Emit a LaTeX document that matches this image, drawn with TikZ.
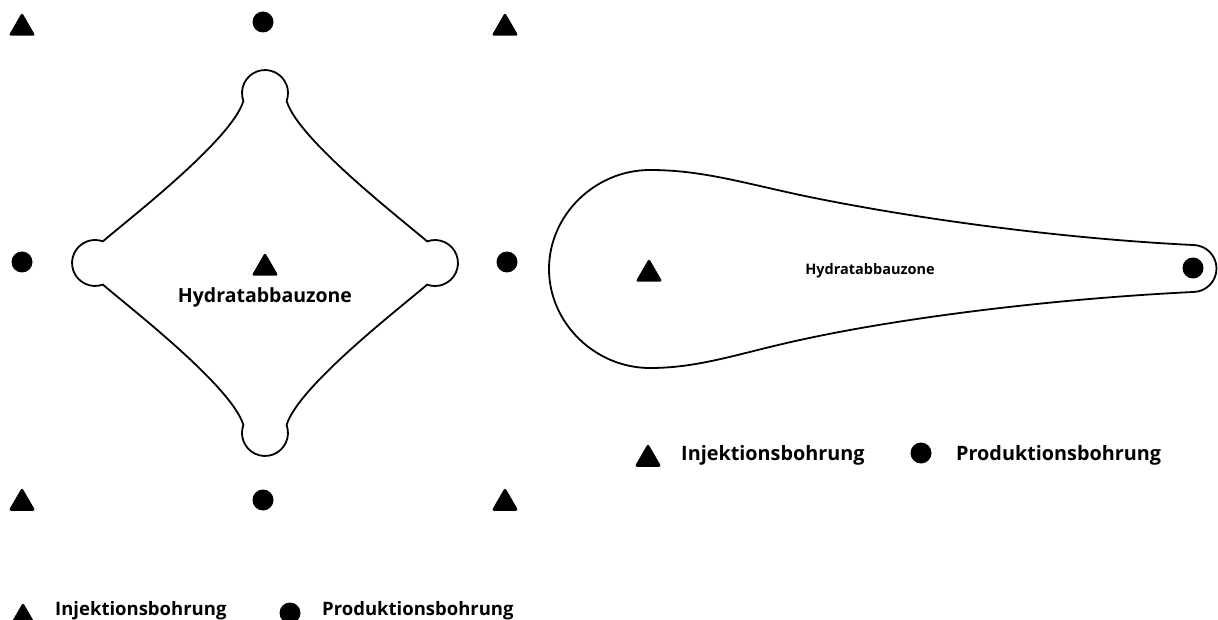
\documentclass[tikz,border=0pt]{standalone}
\usepackage{fontspec}
\setmainfont{Open Sans}
\usepackage{tikz}
\usetikzlibrary{shapes.geometric}

\begin{document}
\begin{tikzpicture}[
    x=1pt, y=-1pt, % one unit per pixel, y running down
    inj/.style={regular polygon, regular polygon sides=3, fill=black, rounded corners=2.5pt, minimum size=31pt, inner sep=0pt}, % injection well
    prod/.style={circle, fill=black, minimum size=21pt, inner sep=0pt}, % production well
    zone/.style={draw=black, line width=1.8pt}, % outline of the dissociation zone
    lbl/.style={font=\bfseries\fontsize{19.5}{22}\selectfont, inner sep=0pt, anchor=base},
    leg/.style={font=\bfseries\fontsize{18.5}{21}\selectfont, inner sep=0pt, anchor=base west}
    ]
    \useasboundingbox (0,0) rectangle (1218,620);

    % five-spot pattern, left
    \node[inj] (i11) at (22,28) {};
    \node[prod] (p12) at (263,22) {};
    \node[inj] (i13) at (505,28) {};
    \node[prod] (p21) at (22,262) {};
    \node[inj] (i22) at (265,268) {};
    \node[prod] (p23) at (507,262) {};
    \node[inj] (i31) at (22,503) {};
    \node[prod] (p32) at (263,500) {};
    \node[inj] (i33) at (505,503) {};

    % star shaped zone
    \draw[zone] (243.4,100.9) arc[start angle=160, end angle=380, radius=23]
        .. controls (298,140) and (405,222) .. (427.1,241.4)
        arc[start angle=250, end angle=470, radius=23]
        .. controls (405,304) and (298,386) .. (286.6,425.1)
        arc[start angle=-20, end angle=200, radius=23]
        .. controls (232,386) and (125,304) .. (102.9,284.6)
        arc[start angle=70, end angle=290, radius=23]
        .. controls (125,222) and (232,140) .. (243.4,100.9) -- cycle;
    \node[lbl] (zoneA) at (265,303) {Hydratabbauzone};

    % legend, left
    \node[inj] (legI) at (23,618) {};
    \node[leg] (legItext) at (55,615) {Injektionsbohrung};
    \node[prod] (legP) at (290,613) {};
    \node[leg] (legPtext) at (322,615) {Produktionsbohrung};

    % line drive, right
    \draw[zone] (650,170) .. controls (700,170) and (740,182) .. (800,195)
        .. controls (900,216) and (1050,238) .. (1193,245)
        arc[start angle=-90, end angle=90, radius=23.5]
        .. controls (1050,299) and (900,318) .. (800,340)
        .. controls (740,353) and (700,368) .. (650,368)
        .. controls (595,368) and (549,323) .. (549,269)
        .. controls (549,215) and (595,170) .. (650,170) -- cycle;
    \node[inj] (iR) at (649,274) {};
    \node[prod] (pR) at (1193,268) {};
    \node[lbl, font=\bfseries\fontsize{14.5}{17}\selectfont] (zoneB) at (870,275) {Hydratabbauzone};

    % legend, right
    \node[inj] (legI2) at (648,459) {};
    \node[leg, font=\bfseries\fontsize{19.8}{22}\selectfont] (legI2text) at (681,460) {Injektionsbohrung};
    \node[prod] (legP2) at (921,453) {};
    \node[leg, font=\bfseries\fontsize{19.8}{22}\selectfont] (legP2text) at (956,460) {Produktionsbohrung};
\end{tikzpicture}
\end{document}
